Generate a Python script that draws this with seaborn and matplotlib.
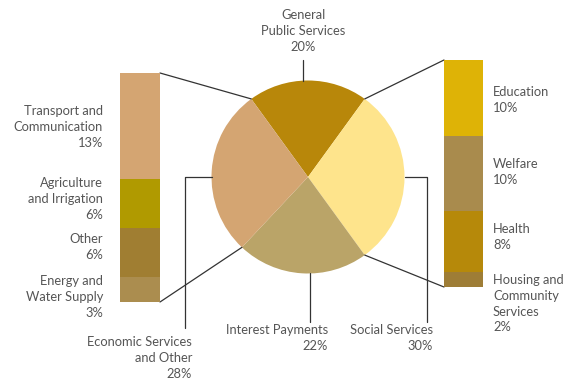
import numpy as np
import pandas as pd
import matplotlib
matplotlib.use("Agg")
import matplotlib.pyplot as plt
import seaborn as sns

# Budget shares (%)
pie_labels = ["General\nPublic Services", "Social Services", "Interest Payments", "Economic Services\nand Other"]
pie_values = [20, 30, 22, 28]
pie_colors = ["#B8870A", "#FEE48C", "#BAA468", "#D4A572"]

econ_labels = ["Transport and\nCommunication", "Agriculture\nand Irrigation", "Other", "Energy and\nWater Supply"]
econ_values = [13, 6, 6, 3]
econ_colors = ["#D4A572", "#B09A00", "#A07E32", "#AB8D4F"]

social_labels = ["Education", "Welfare", "Health", "Housing and\nCommunity\nServices"]
social_values = [10, 10, 8, 2]
social_colors = ["#DEB306", "#A98B4D", "#B6890A", "#9E7D36"]

sns.set_theme(style="white")
plt.rcParams["font.family"] = ["Lato", "DejaVu Sans"]

W, H = 570, 382
TXT = "#555555"
LINE = "#333333"
FS = 9.3

fig = plt.figure(figsize=(W / 100, H / 100), dpi=100)
ax = fig.add_axes([0, 0, 1, 1])


def Y(y):
    return H - y


# main pie
cx, cy, r = 308, Y(177), 96.5
wedges, _ = ax.pie(pie_values, colors=pie_colors, startangle=126, counterclock=False,
                   center=(cx, cy), radius=r, wedgeprops=dict(linewidth=0))
ax.set_xlim(0, W)
ax.set_ylim(0, H)
ax.set_aspect("auto")
ax.axis("off")


def edge(angle):
    a = np.deg2rad(angle)
    return cx + r * np.cos(a), cy + r * np.sin(a)


def stacked_column(rect, labels, values, colors):
    bax = fig.add_axes(rect)
    cum = np.cumsum(values[::-1])[::-1]
    # draw running totals from the largest down so each segment shows through
    for total, color in zip(cum, colors):
        sns.barplot(x=["col"], y=[total], color=color, width=1.0, ax=bax,
                    saturation=1, linewidth=0)
    bax.set_ylim(0, cum[0])
    bax.set_xlim(-0.5, 0.5)
    bax.axis("off")
    return bax


# left column: economic services breakdown
lx0, lx1, ly0, ly1 = 120, 160, 73, 302
stacked_column([lx0 / W, Y(ly1) / H, (lx1 - lx0) / W, (ly1 - ly0) / H],
               econ_labels, econ_values, econ_colors)
# right column: social services breakdown
rx0, rx1, ry0, ry1 = 444, 483, 60, 287
stacked_column([rx0 / W, Y(ry1) / H, (rx1 - rx0) / W, (ry1 - ry0) / H],
               social_labels, social_values, social_colors)

lw = 0.9
gps, soc, intr, eco = wedges
# connectors from pie slices to the columns
p = edge(gps.theta2)
ax.plot([lx1, p[0]], [Y(ly0), p[1]], color=LINE, lw=lw)
p = edge(eco.theta2)
ax.plot([lx1, p[0]], [Y(ly1), p[1]], color=LINE, lw=lw)
p = edge(gps.theta1)
ax.plot([rx0, p[0]], [Y(ry0), p[1]], color=LINE, lw=lw)
p = edge(soc.theta1)
ax.plot([rx0, p[0]], [Y(ry1), p[1]], color=LINE, lw=lw)

# leader lines to slice labels
ax.plot([303, 303], [Y(60), cy + np.sqrt(r**2 - (303 - cx)**2)], color=LINE, lw=lw)
ax.plot([cx - r, 185, 185], [cy, cy, Y(328)], color=LINE, lw=lw)
ax.plot([310, 310], [cy - np.sqrt(r**2 - (310 - cx)**2), Y(322)], color=LINE, lw=lw)
ax.plot([cx + r, 427, 427], [cy, cy, Y(322)], color=LINE, lw=lw)


def label(x, y, text, ha):
    ax.text(x, Y(y), text, ha=ha, va="top", fontsize=FS, color=TXT,
            linespacing=1.38, multialignment=ha)


label(303, 9, f"{pie_labels[0]}\n{pie_values[0]}%", "center")
label(433, 324, f"{pie_labels[1]}\n{pie_values[1]}%", "right")
label(328, 324, f"{pie_labels[2]}\n{pie_values[2]}%", "right")
label(192, 336, f"{pie_labels[3]}\n{pie_values[3]}%", "right")

for (txt, v, y) in zip(econ_labels, econ_values, [105, 177, 233, 275]):
    label(103, y, f"{txt}\n{v}%", "right")
for (txt, v, y) in zip(social_labels, social_values, [86, 158, 223, 274]):
    label(493, y, f"{txt}\n{v}%", "left")

fig.savefig("out.png", dpi=100)
